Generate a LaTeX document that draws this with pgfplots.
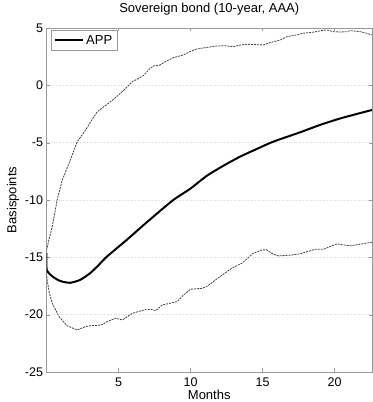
\documentclass[border=0pt]{standalone}
\usepackage{pgfplots}
\pgfplotsset{compat=1.18}
\usepackage{fontspec}
\setmainfont{Liberation Sans}
\begin{document}
\begin{tikzpicture}
\begin{axis}[
  name=A,
  scale only axis,
  width=325.5pt, height=344pt,
  xmin=0, xmax=22.6, ymin=-25, ymax=5,
  xtick={5,10,15,20}, ytick={-25,-20,-15,-10,-5,0,5},
  /pgf/number format/assume math mode=true,
  tick label style={font=\fontsize{12.5}{14}\selectfont},
  label style={font=\fontsize{13}{15}\selectfont},
  title style={font=\fontsize{13}{15}\selectfont},
  title={Sovereign bond (10-year, AAA)},
  title style={at={(axis description cs:0.5,1.029)},anchor=base},
  xlabel={Months}, ylabel={Basispoints},
  xlabel style={at={(axis description cs:0.5,-0.066)},anchor=center},
  ylabel style={at={(axis description cs:-0.103,0.5)},anchor=center,rotate=0},
  xticklabel style={anchor=base,yshift=-14.2pt},
  axis line style={gray!80},
  tick style={gray!80},
  tick align=inside,
  major tick length=3.5pt,
  ymajorgrids,
  major grid style={dotted, gray!30},
  legend style={at={(axis description cs:0.0138,0.994)},anchor=north west,
    draw=gray!80, inner xsep=3pt, inner ysep=3pt, font=\fontsize{13}{15}\selectfont,
    row sep=0pt},
  legend cell align=left,
  legend image code/.code={\draw[#1] (0pt,0pt) -- (28pt,0pt);},
]
\addplot[line width=2pt, black, smooth, tension=0.4] coordinates {
(0,-14.6)(0.02,-16.1)(0.5,-16.75)(1,-17.08)(1.63,-17.22)(2.33,-16.97)(3.02,-16.39)(3.6,-15.7)(4.18,-14.95)(5.57,-13.48)(6.49,-12.46)(7.42,-11.45)(8.8,-10.0)(10,-9.0)(11.12,-7.9)(12.3,-7.0)(13.44,-6.22)(14.6,-5.55)(15.75,-4.91)(17.6,-4.1)(19,-3.45)(20.5,-2.85)(22.6,-2.15)
};
\addlegendentry{APP}
\addplot[forget plot, line width=0.8pt, dash pattern=on 2pt off 1pt, black!75] coordinates {
(0,-14.4)(0.06,-14.07)(0.2,-13.3)(0.4,-12.32)(0.75,-9.93)(1.1,-8.25)(1.56,-6.8)(2.14,-4.91)(2.72,-3.89)(3.1,-3.1)(3.53,-2.3)(4.0,-1.85)(4.46,-1.42)(4.9,-0.95)(5.38,-0.41)(5.96,0.32)(6.4,0.6)(6.77,0.9)(7.19,1.49)(7.47,1.7)(7.88,1.77)(8.3,2.1)(8.81,2.41)(9.5,2.65)(10.0,2.95)(10.43,3.17)(11.1,3.3)(11.82,3.43)(12.4,3.45)(12.97,3.37)(13.4,3.5)(13.9,3.58)(14.5,3.55)(15.06,3.52)(15.6,3.75)(16.22,3.95)(16.68,4.24)(17.2,4.35)(17.83,4.54)(18.6,4.65)(19.2,4.8)(19.46,4.83)(19.92,4.68)(20.4,4.65)(20.85,4.68)(21.08,4.77)(21.77,4.68)(22.2,4.55)(22.6,4.39)
};
\addplot[forget plot, line width=0.8pt, dash pattern=on 2pt off 1pt, black!75] coordinates {
(0,-16.4)(0.06,-17.1)(0.2,-18.1)(0.4,-19.0)(0.87,-20.17)(1.44,-20.98)(2.14,-21.33)(2.72,-21.04)(3.1,-20.95)(3.53,-20.95)(3.9,-20.85)(4.22,-20.6)(4.8,-20.31)(5.27,-20.46)(5.96,-19.88)(6.77,-19.59)(7.24,-19.53)(7.58,-19.65)(8.04,-19.15)(8.6,-19.0)(9.08,-18.86)(9.5,-18.3)(10.01,-17.78)(10.82,-17.7)(11.12,-17.55)(12.05,-16.68)(12.86,-15.95)(13.56,-15.52)(14.36,-14.64)(15.0,-14.35)(15.29,-14.35)(15.7,-14.7)(16.1,-14.88)(17.0,-14.8)(17.6,-14.7)(18.65,-14.3)(19.22,-14.3)(20.15,-13.83)(21.08,-14.0)(21.8,-13.85)(22.6,-13.68)
};
\end{axis}
\pgfresetboundingbox
\path[use as bounding box] ([shift={(-46.5pt,-30pt)}]A.south west) rectangle ([shift={(0.5pt,28pt)}]A.north east);
\end{tikzpicture}
\end{document}
